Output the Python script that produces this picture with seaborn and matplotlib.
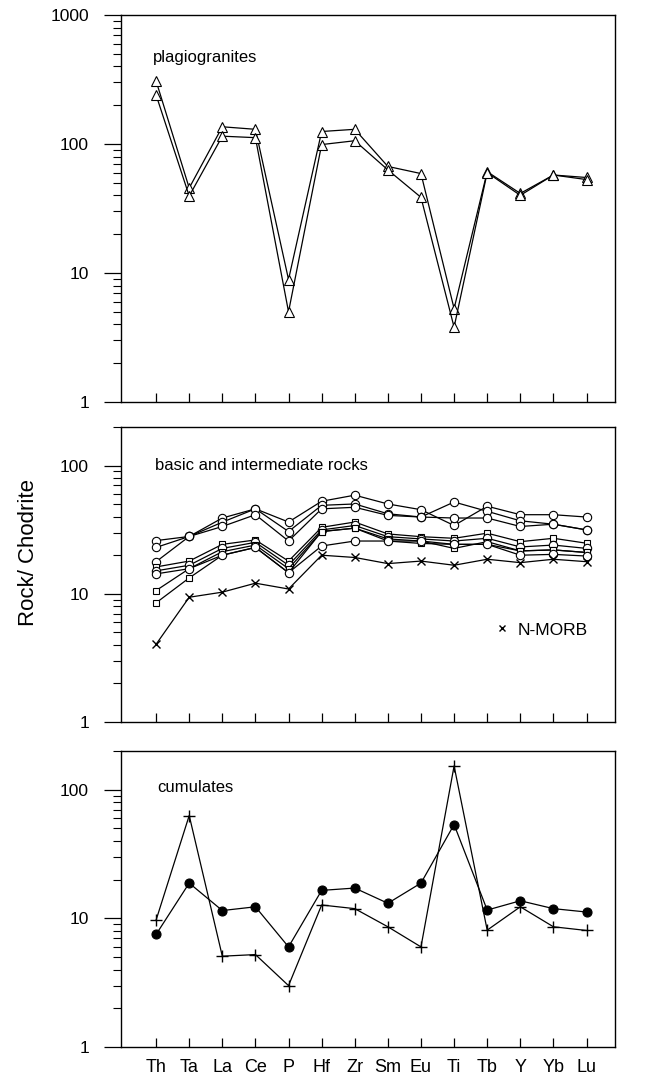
import numpy as np
import pandas as pd
import matplotlib
matplotlib.use("Agg")
import matplotlib.pyplot as plt
import seaborn as sns
from matplotlib.ticker import FixedLocator, FixedFormatter, NullFormatter
from matplotlib.lines import Line2D

# ---------------- data ----------------
elements = ["Th", "Ta", "La", "Ce", "P", "Hf", "Zr", "Sm", "Eu", "Ti", "Tb", "Y", "Yb", "Lu"]

# plagiogranites
plag_a = [308, 45.6, 136, 130, 8.9, 125, 130, 67, 59, 5.3, 61, 41.4, 57.5, 55]
plag_b = [240, 39.5, 115, 112, 5.0, 99, 106, 63, 38.6, 3.8, 60, 40, 57.5, 53]

# basic and intermediate rocks
basic_u1 = [26, 28, 39, 46, 36.3, 52.7, 58.8, 50.2, 45.3, 34.1, 48.2, 41.4, 41.4, 39.7]
basic_u2 = [23, 28, 36.2, 46, 30.6, 49, 50.2, 42.1, 39.7, 52, 44, 37.1, 34.9, 31.5]
basic_u3 = [17.8, 28, 33.5, 41.4, 25.8, 46, 47.3, 40.9, 39.7, 39, 39, 33.5, 34.9, 31.5]
basic_l1 = [16.2, 18, 24.3, 26.3, 18, 33, 36.3, 29.3, 27.9, 27.1, 29.7, 25.5, 27.1, 24.8]
basic_l2 = [15.1, 16.7, 22.6, 25.2, 16.7, 31.5, 34.1, 27.9, 26.8, 25.8, 27.1, 23.2, 24, 22.6]
basic_l3 = [10.6, 15.7, 21.3, 24, 15.7, 30.6, 32.5, 26.8, 25.8, 22.6, 25.5, 21.6, 22, 21]
basic_l4 = [8.5, 13.3, 20, 23, 14.6, 30.6, 32.5, 25.8, 24.7, 24.3, 24.3, 21.6, 22, 21]
basic_l5 = [14.3, 15.7, 20, 23, 14.6, 23.6, 25.8, 25.8, 25.8, 24.3, 24.3, 20, 20.3, 19.7]
nmorb = [4.04, 9.4, 10.3, 12.1, 10.9, 20, 19.2, 17.2, 18, 16.7, 18.6, 17.5, 18.6, 17.8]

# cumulates
cum_dot = [7.5, 18.8, 11.5, 12.3, 6.0, 16.5, 17.2, 13.1, 18.8, 53.6, 11.6, 13.7, 11.9, 11.2]
cum_plus = [9.7, 63, 5.08, 5.23, 3.0, 12.7, 11.9, 8.6, 6.0, 153, 8.1, 12.3, 8.6, 8.05]

# ---------------- style ----------------
sns.set_style("ticks")
plt.rcParams["font.family"] = ["Liberation Sans", "DejaVu Sans"]
plt.rcParams["axes.linewidth"] = 1.0
plt.rcParams["axes.edgecolor"] = "black"
plt.rcParams["xtick.color"] = "black"
plt.rcParams["ytick.color"] = "black"
plt.rcParams["text.color"] = "black"

fig = plt.figure(figsize=(6.56, 10.79), dpi=100)
ax1 = fig.add_axes([0.18445, 0.62743, 0.75305, 0.35866])
ax2 = fig.add_axes([0.18445, 0.33086, 0.75305, 0.27340])
ax3 = fig.add_axes([0.18445, 0.02966, 0.75305, 0.27433])

pos = np.arange(len(elements))


def draw(ax, vals, marker, ms, filled=False, mew=0.8):
    df = pd.DataFrame({"pos": pos, "val": vals})
    sns.lineplot(data=df, x="pos", y="val", ax=ax, color="black", lw=0.9,
                 marker=marker, markersize=ms,
                 markerfacecolor=("black" if filled else "white"),
                 markeredgecolor="black", markeredgewidth=mew,
                 sort=False, legend=False)


draw(ax1, plag_a, "^", 6.5)
draw(ax1, plag_b, "^", 6.5)

for s, m, ms in [(basic_u1, "o", 6), (basic_u2, "o", 6), (basic_u3, "o", 6),
                 (basic_l1, "s", 5), (basic_l2, "o", 6), (basic_l3, "s", 5),
                 (basic_l4, "s", 5), (basic_l5, "o", 6)]:
    draw(ax2, s, m, ms)
draw(ax2, nmorb, "x", 5.5, mew=1.0)

draw(ax3, cum_dot, "o", 6.5, filled=True)
draw(ax3, cum_plus, "+", 8, mew=1.0)


def style_axes(ax, top, labels_x):
    ax.set_yscale("log")
    ax.set_ylim(1, top)
    ax.set_xlim(-1.06, 13.86)
    decades = [d for d in [1, 10, 100, 1000] if d <= top]
    ax.yaxis.set_major_locator(FixedLocator(decades))
    ax.yaxis.set_major_formatter(FixedFormatter([str(d) for d in decades]))
    minors = [m * d for d in [1, 10, 100] for m in range(2, 10) if m * d < top * 1.001]
    ax.yaxis.set_minor_locator(FixedLocator(minors))
    ax.yaxis.set_minor_formatter(NullFormatter())
    ax.tick_params(axis="y", which="major", direction="out", length=12, width=0.9,
                   pad=11, labelsize=12.5, colors="black")
    ax.tick_params(axis="y", which="minor", direction="out", length=6, width=0.8,
                   colors="black")
    ax.set_xticks(pos)
    ax.xaxis.set_minor_locator(FixedLocator([]))
    if labels_x:
        ax.set_xticklabels(elements)
    else:
        ax.set_xticklabels([])
    ax.tick_params(axis="x", which="major", direction="in", length=6.5, width=0.9,
                   pad=9, labelsize=13, labelbottom=labels_x, colors="black")
    ax.set_xlabel("")
    ax.set_ylabel("")
    for sp in ax.spines.values():
        sp.set_visible(True)
        sp.set_linewidth(1.0)
        sp.set_color("black")


style_axes(ax1, 1000, False)
style_axes(ax2, 200, False)
style_axes(ax3, 200, True)

ax1.text(0.065, 0.889, "plagiogranites", transform=ax1.transAxes, fontsize=12,
         va="center", ha="left")
ax2.text(0.069, 0.871, "basic and intermediate rocks", transform=ax2.transAxes,
         fontsize=12, va="center", ha="left")
ax3.text(0.073, 0.875, "cumulates", transform=ax3.transAxes, fontsize=12,
         va="center", ha="left")

handle = Line2D([], [], marker="x", ls="none", color="black", markersize=5,
                markeredgewidth=1.0)
ax2.legend(handles=[handle], labels=["N-MORB"], frameon=False, loc="center left",
           bbox_to_anchor=(0.757, 0.312), handlelength=0.8, handletextpad=0.5,
           borderpad=0, borderaxespad=0, fontsize=12.5)

fig.text(28 / 656, 1 - 552 / 1079, "Rock/ Chodrite", rotation=90, fontsize=16,
         ha="center", va="center")

fig.savefig("out.png", dpi=100)
